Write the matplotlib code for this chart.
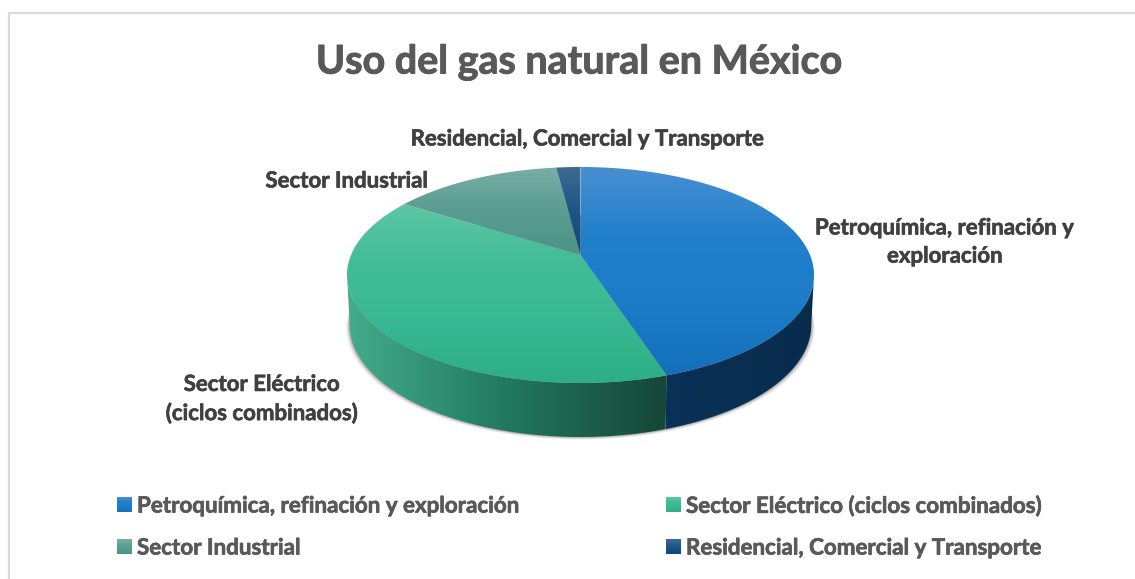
import numpy as np
from matplotlib import pyplot as plt
from matplotlib import patheffects as pe
from matplotlib.colors import LinearSegmentedColormap
from matplotlib.patches import Polygon

plt.rcParams['font.family'] = ['Lato', 'DejaVu Sans']

TITULO = 'Uso del gas natural en México'
SECTORES = ['Petroquímica, refinación y exploración', 'Sector Eléctrico (ciclos combinados)',
            'Sector Industrial', 'Residencial, Comercial y Transporte']
VALORES = [45, 39, 14, 2]
ETIQUETAS = ['Petroquímica, refinación y\nexploración', 'Sector Eléctrico\n(ciclos combinados)',
             'Sector Industrial', 'Residencial, Comercial y Transporte']

# degradados de arriba hacia abajo
COLORES_TAPA = [['#4A8FD1', '#2080CC', '#1C7CC8', '#1470BB'], ['#5EC6A3', '#40BD97', '#38B892', '#2DAE86'],
                ['#78AEA5', '#5A9C91', '#4E9387'], ['#3E6A94', '#1E5686', '#0C4779']]
# degradados de izquierda a derecha
COLORES_PARED = [['#0A3156', '#082C4C'], ['#43AC8B', '#22785F', '#154636'], ['#4E9387', '#2B5F55'], ['#0C4779', '#082C4C']]

ANCHO, ALTO = 1135, 579
CX, CY_APICE = 580.5, 255
A, B, K = 229.5, 104.3, 0.185  # perspectiva de la tapa
CY_TAPA, CY_BASE = 275, 325
ESC_X, ESC_Y = 0.988, 1.037
T_VISIBLE = np.degrees(np.arccos(-K))  # la pared solo se ve entre estos angulos
GROSOR = [pe.withStroke(linewidth=0.5, foreground='#4a4a4a')]

fig = plt.figure(figsize=(ANCHO / 100, ALTO / 100), dpi=100)
ax = fig.add_axes([0, 0, 1, 1])


def tapa(t):
    t = np.radians(t)
    u, v = np.sin(t), np.cos(t)
    return CX + A * u / (1 + K * v), CY_APICE - B * v / (1 + K * v)


def base(t):
    x, y = tapa(t)
    return CX + (x - CX) * ESC_X, CY_BASE + (y - CY_TAPA) * ESC_Y


def relleno(xs, ys, colores, horizontal=False, zorder=2):
    # degradado recortado con el poligono
    poli = Polygon(np.column_stack([xs, ys]), closed=True, transform=ax.transData, fc='none', ec='none')
    ax.add_patch(poli)
    cmap = LinearSegmentedColormap.from_list('g', colores)
    grad = np.linspace(0, 1, 256).reshape(-1, 1)
    if horizontal:
        grad = grad.T
    im = ax.imshow(grad, cmap=cmap, extent=[min(xs), max(xs), max(ys), min(ys)], aspect='auto',
                   zorder=zorder, interpolation='bilinear')
    im.set_clip_path(poli)


# sombra bajo el pastel
tt = np.linspace(0, 360, 400)
for extra, alfa in [(4, 0.05), (3, 0.08), (2, 0.12), (1, 0.2)]:
    bx, by = base(tt)
    ax.fill(CX + (bx - CX) * (1 + extra / 240), by + extra * 0.7, color='#303030', alpha=alfa, lw=0, zorder=1)

cortes = np.concatenate([[0], np.cumsum(VALORES)]) / sum(VALORES) * 360

# paredes
for i in range(len(VALORES)):
    t1, t2 = max(cortes[i], T_VISIBLE), min(cortes[i + 1], 360 - T_VISIBLE)
    if t2 <= t1:
        continue
    t = np.linspace(t1, t2, 150)
    xa, ya = tapa(t)
    xb, yb = base(t)
    relleno(np.r_[xa, xb[::-1]], np.r_[ya, yb[::-1]], COLORES_PARED[i], horizontal=True, zorder=2)

# tapa
for i in range(len(VALORES)):
    t = np.linspace(cortes[i], cortes[i + 1], 200)
    x, y = tapa(t)
    relleno(np.r_[CX, x], np.r_[CY_APICE, y], COLORES_TAPA[i], zorder=3)

ax.text(579, 62, TITULO, fontsize=28.4, fontweight='bold', color='#595959', ha='center', va='center',
        path_effects=[pe.withStroke(linewidth=0.7, foreground='#595959')])

POS_ETIQUETAS = [(945, 242), (262, 399), (347, 181), (588, 139)]
for texto, (px, py) in zip(ETIQUETAS, POS_ETIQUETAS):
    ax.text(px, py, texto, fontsize=16, fontweight='bold', color='#404040', ha='center', va='center',
            linespacing=1.42, zorder=5, path_effects=GROSOR)

# leyenda
POS_LEYENDA = [(117, 505), (666, 505), (117, 547), (666, 547)]
for nombre, cols, (px, py) in zip(SECTORES, COLORES_TAPA, POS_LEYENDA):
    relleno([px, px + 15, px + 15, px], [py - 8, py - 8, py + 7, py + 7], cols, zorder=3)
    ax.text(px + 20, py + 1, nombre, fontsize=16.1, fontweight='bold', color='#595959', ha='left', va='center',
            path_effects=[pe.withStroke(linewidth=0.5, foreground='#595959')])

# marco del grafico, solo se ve arriba y a la izquierda
ax.plot([8.5, 8.5, ANCHO], [ALTO, 12.5, 12.5], color='#D9D9D9', lw=1.6, zorder=0)

ax.set_xlim(0, ANCHO)
ax.set_ylim(ALTO, 0)
ax.axis('off')
fig.savefig('out.png', dpi=100)
